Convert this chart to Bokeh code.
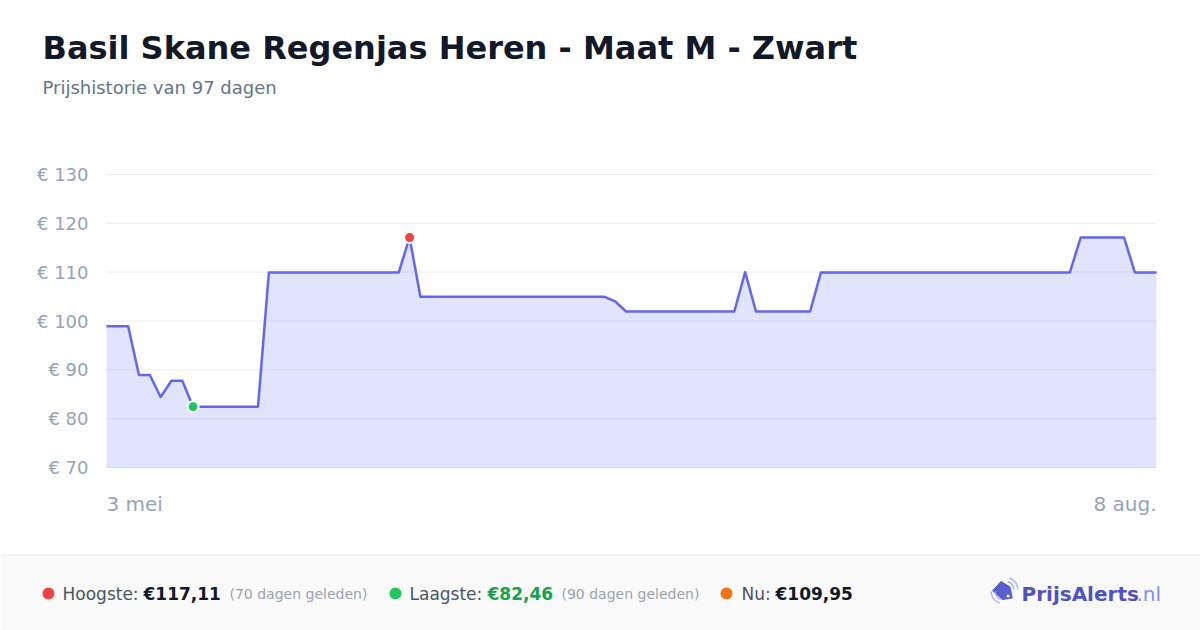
import numpy as np
from bokeh.plotting import figure
from bokeh.models import Range1d
from bokeh.embed import file_html
from bokeh.resources import INLINE
from bokeh.core.properties import value

FONT = "DejaVu Sans"

# ---------------- data ----------------
title = "Basil Skane Regenjas Heren - Maat M - Zwart"
subtitle = "Prijshistorie van 97 dagen"

days = list(range(98))  # day offsets from 3 mei to 8 aug.
prices = [
    98.95, 98.95, 98.95, 88.95, 88.95, 84.45, 87.75, 87.75, 82.46, 82.46,
    82.46, 82.46, 82.46, 82.46, 82.46, 109.95, 109.95, 109.95, 109.95, 109.95,
    109.95, 109.95, 109.95, 109.95, 109.95, 109.95, 109.95, 109.95, 117.11, 104.95,
    104.95, 104.95, 104.95, 104.95, 104.95, 104.95, 104.95, 104.95, 104.95, 104.95,
    104.95, 104.95, 104.95, 104.95, 104.95, 104.95, 104.95, 104.00, 101.95, 101.95,
    101.95, 101.95, 101.95, 101.95, 101.95, 101.95, 101.95, 101.95, 101.95, 110.00,
    101.95, 101.95, 101.95, 101.95, 101.95, 101.95, 109.95, 109.95, 109.95, 109.95,
    109.95, 109.95, 109.95, 109.95, 109.95, 109.95, 109.95, 109.95, 109.95, 109.95,
    109.95, 109.95, 109.95, 109.95, 109.95, 109.95, 109.95, 109.95, 109.95, 109.95,
    117.11, 117.11, 117.11, 117.11, 117.11, 109.95, 109.95, 109.95,
]
y_ticks = [70, 80, 90, 100, 110, 120, 130]
y_tick_labels = ["€ 70", "€ 80", "€ 90", "€ 100", "€ 110", "€ 120", "€ 130"]
x_tick_labels = ["3 mei", "8 aug."]
days_ago_high = "(70 dagen geleden)"
days_ago_low = "(90 dagen geleden)"

hi_val = max(prices)
lo_val = min(prices)
hi_day = days[prices.index(hi_val)]
lo_day = days[prices.index(lo_val)]
now_val = prices[-1]


def eur(v):
    return "€" + f"{v:.2f}".replace(".", ",")


# ---------------- layout (page pixels) ----------------
CX0, CY0 = 0, 0
W, H = 1200, 630
PX0, PX1 = 106, 1156       # plot area, page px
PY0, PY1 = 174, 467

p = figure(width=W, height=H, x_range=Range1d(CX0, CX0 + W), y_range=Range1d(CY0 + H, CY0),
           output_backend="svg", toolbar_location=None, x_axis_type=None, y_axis_type=None,
           min_border=0)
p.outline_line_color = None
p.background_fill_color = "white"
p.border_fill_color = "white"

# data scales mapped onto the plot area
sx = (PX1 - PX0) / (days[-1] - days[0])
sy = (PY1 - PY0) / (y_ticks[-1] - y_ticks[0])
p.extra_x_ranges = {"day": Range1d(days[0] - (PX0 - CX0) / sx, days[-1] + (CX0 + W - PX1) / sx)}
p.extra_y_ranges = {"price": Range1d(y_ticks[0] - (CY0 + H - PY1) / sy, y_ticks[-1] + (PY0 - CY0) / sy)}
D = dict(x_range_name="day", y_range_name="price")


def txt(x, y, s, size, color, bold=False, align="left", baseline="middle", **kw):
    p.text(x=x if isinstance(x, list) else [x], y=y if isinstance(y, list) else [y],
           text=s if isinstance(s, list) else [s], text_font=value(FONT), text_font_size=size,
           text_color=color, text_font_style="bold" if bold else "normal",
           text_align=align, text_baseline=baseline, **kw)


# ---------------- header ----------------
txt(42, 47, title, "32px", "#111827", bold=True)
txt(42, 87, subtitle, "18px", "#64748b")

# ---------------- chart ----------------
n = len(y_ticks)
p.segment(x0=[days[0]] * (n - 1), x1=[days[-1]] * (n - 1), y0=y_ticks[1:], y1=y_ticks[1:],
          line_color="#eff0f3", line_width=1.2, **D)
p.segment(x0=[days[0]], x1=[days[-1]], y0=[y_ticks[0]], y1=[y_ticks[0]],
          line_color="#e3e5ec", line_width=1.2, **D)
p.varea(x=days, y1=[y_ticks[0]] * len(days), y2=prices, fill_color="#6478f5", fill_alpha=0.2, **D)
p.line(days, prices, line_color="#6366f1", line_width=2.5, line_join="round", **D)
p.scatter([hi_day], [hi_val], size=11, fill_color="#ef4444", line_color="white", line_width=2, **D)
p.scatter([lo_day], [lo_val], size=11, fill_color="#22c55e", line_color="white", line_width=2, **D)

# y tick labels (x in page px, y in price)
txt([88] * n, y_ticks, y_tick_labels, "18px", "#94a3b8", align="right", y_range_name="price")
# x tick labels (x in days, y in page px)
txt(days[0], 503, x_tick_labels[0], "20px", "#94a3b8", align="left", x_range_name="day")
txt(days[-1], 503, x_tick_labels[1], "20px", "#94a3b8", align="right", x_range_name="day")

# ---------------- footer ----------------
p.quad(left=[CX0], right=[CX0 + W], top=[554], bottom=[CY0 + H], fill_color="#fafafa", line_color=None)
p.segment(x0=[CX0], y0=[554.5], x1=[CX0 + W], y1=[554.5], line_color="#efefef", line_width=1)

p.scatter([48, 395, 726], [593, 593, 593], size=12,
          fill_color=["#ef4444", "#22c55e", "#f97316"], line_color=None)
MY = 593
txt(62, MY, "Hoogste:", "17px", "#4b5563")
txt(143, MY, eur(hi_val), "17px", "#111827", bold=True)
txt(229, MY, days_ago_high, "14px", "#9ca3af")
txt(409, MY, "Laagste:", "17px", "#4b5563")
txt(487, MY, eur(lo_val), "17px", "#16a34a", bold=True)
txt(561, MY, days_ago_low, "14px", "#9ca3af")
txt(741, MY, "Nu:", "17px", "#4b5563")
txt(775, MY, eur(now_val), "17px", "#111827", bold=True)

# logo: price tag with signal arcs
tag_x = [992.5, 1000.7, 1009.3, 1011.5, 1002.3]
tag_y = [590.3, 581.3, 586.7, 597.3, 598.7]
p.patch(tag_x, tag_y, fill_color="#5b5fd0", line_color="#5b5fd0", line_width=1.5, line_join="round")
p.scatter([1007.6], [595.6], size=3, fill_color="white", line_color=None)
for r in (9.5, 13.5):
    th = np.radians(np.linspace(5, 70, 20))
    p.line(1004 + r * np.cos(th), 590 - r * np.sin(th), line_color="#a5b4fc", line_width=1.5)
    th = np.radians(np.linspace(185, 250, 20))
    p.line(1004 + r * np.cos(th), 590 - r * np.sin(th), line_color="#a5b4fc", line_width=1.5)
txt(1021, 593, "PrijsAlerts", "20px", "#4f52c4", bold=True)
txt(1136, 593, ".nl", "20px", "#818cf8")

open("out.html", "w").write(file_html(p, INLINE))
